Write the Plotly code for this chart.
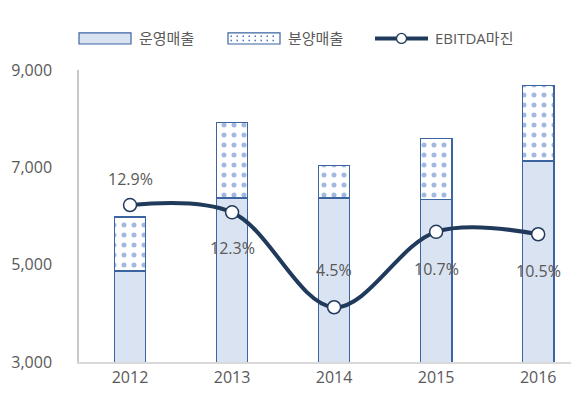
import plotly.graph_objects as go

years = ["2012", "2013", "2014", "2015", "2016"]
operating_sales = [4870, 6370, 6370, 6330, 7130]
presale_sales = [1110, 1560, 660, 1270, 1560]
ebitda_margin = [12.9, 12.3, 4.5, 10.7, 10.5]
margin_labels = ["12.9%", "12.3%", "4.5%", "10.7%", "10.5%"]
label_shift = [26, -36, 37, -37, -37]
y_ticks = [3000, 5000, 7000, 9000]
legend_names = ["운영매출", "분양매출", "EBITDA마진"]

font_fam = "Open Sans, Noto Sans CJK KR, sans-serif"
gray = "#595959"
navy = "#203a5c"
edge = "#3b64a0"
fill = "#dae3f1"
dotc = "#4472c4"

fig = go.Figure()
fig.add_trace(go.Bar(
    x=years, y=operating_sales, name=legend_names[0],
    marker=dict(color=fill, line=dict(color=edge, width=1.1)),
    width=0.31, showlegend=False,
))
fig.add_trace(go.Bar(
    x=years, y=presale_sales, name=legend_names[1],
    marker=dict(color="white", line=dict(color=edge, width=1.1),
                pattern=dict(shape=".", fgcolor=dotc, bgcolor="white", size=10, solidity=0.2)),
    width=0.31, showlegend=False,
))
fig.add_trace(go.Scatter(
    x=years, y=ebitda_margin, name=legend_names[2], yaxis="y2",
    mode="lines+markers",
    line=dict(color=navy, width=4, shape="spline", smoothing=1.0),
    marker=dict(size=13, color="white", line=dict(color=navy, width=1.5)),
    showlegend=False,
))

for i, (v, lab, sh) in enumerate(zip(ebitda_margin, margin_labels, label_shift)):
    fig.add_annotation(x=i, y=v, xref="x", yref="y2", text=lab, showarrow=False, yshift=sh,
                       font=dict(size=16, color=gray, family=font_fam))

# custom legend (paper coordinates)
ly = 1.108
fig.add_shape(type="rect", xref="paper", yref="paper", x0=0.0, x1=0.104, y0=1.089, y1=1.127,
              fillcolor=fill, line=dict(color=edge, width=1.2))
fig.add_shape(type="rect", xref="paper", yref="paper", x0=0.298, x1=0.402, y0=1.089, y1=1.127,
              fillcolor="white", line=dict(color=edge, width=1.2))
for yy in [1.101, 1.116]:
    fig.add_shape(type="line", xref="paper", yref="paper", x0=0.303, x1=0.398, y0=yy, y1=yy,
                  line=dict(color=dotc, width=1.5, dash="1.5px,4.5px"))
fig.add_shape(type="line", xref="paper", yref="paper", x0=0.592, x1=0.698, y0=ly, y1=ly,
              line=dict(color=navy, width=4))
fig.add_shape(type="circle", xref="paper", yref="paper", xsizemode="pixel", ysizemode="pixel",
              xanchor=0.645, yanchor=ly, x0=-5, x1=5, y0=-5, y1=5,
              fillcolor="white", line=dict(color=navy, width=1.3))
for xx, name in zip([0.116, 0.414, 0.708], legend_names):
    fig.add_annotation(x=xx, y=ly, xref="paper", yref="paper", text=name, showarrow=False,
                       xanchor="left", yanchor="middle",
                       font=dict(size=15, color=gray, family=font_fam))

fig.update_layout(
    width=579, height=412,
    barmode="stack",
    paper_bgcolor="white", plot_bgcolor="white",
    margin=dict(l=71, r=8, t=62, b=58, autoexpand=False),
    font=dict(family=font_fam, color=gray, size=15),
    showlegend=False,
    xaxis=dict(type="category", range=[-0.5, 4.4], showgrid=False, automargin=False,
               showline=True, linecolor="#d9d9d9", linewidth=1.5, ticks="",
               tickfont=dict(size=16, color=gray)),
    yaxis=dict(range=[3000, 9000], tickvals=y_ticks, tickformat=",", showgrid=False,
               showline=True, linecolor="#c8c8c8", linewidth=1.5, ticks="",
               ticklabelstandoff=22, automargin=False,
               zeroline=False, tickfont=dict(size=16, color=gray)),
    yaxis2=dict(range=[0, 24], overlaying="y", side="right", showgrid=False, automargin=False,
                showticklabels=False, showline=False, zeroline=False, ticks=""),
)

fig.write_html("out.html")
